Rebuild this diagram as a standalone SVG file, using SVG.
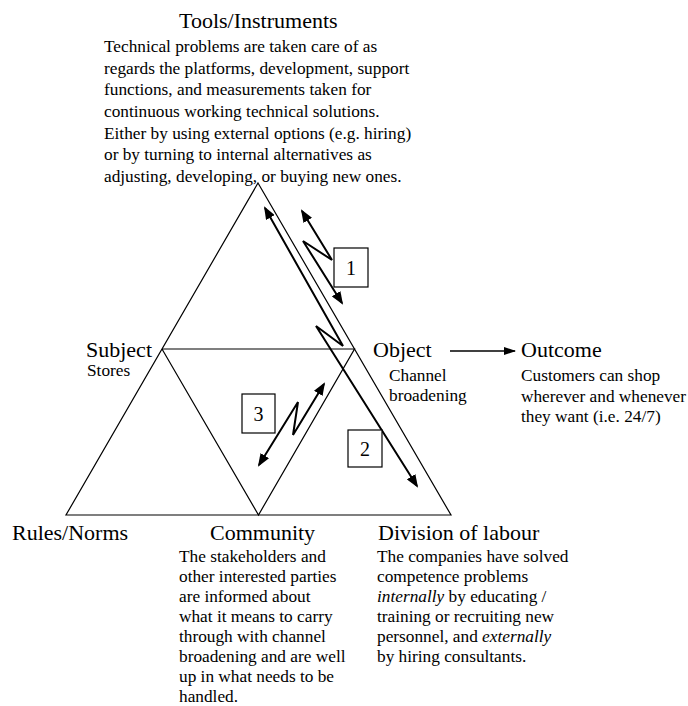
<svg xmlns="http://www.w3.org/2000/svg" width="688" height="706" viewBox="0 0 688 706">
<style>
text{font-family:"Liberation Serif","Times New Roman",serif;fill:#000}
.h{font-size:22px}
.b{font-size:17.3px}
.n{font-size:20px;text-anchor:middle}
.tri{fill:none;stroke:#000;stroke-width:1.2;stroke-linejoin:miter}
.zz{fill:none;stroke:#000;stroke-width:2;marker-start:url(#ah);marker-end:url(#ah)}
.box{fill:#fff;stroke:#000;stroke-width:1.2}
</style>
<defs>
<marker id="ah" markerUnits="userSpaceOnUse" markerWidth="14" markerHeight="10" refX="11" refY="5" orient="auto-start-reverse" viewBox="0 0 14 10">
<path d="M0,0 L13,5 L0,10 z" fill="#000"/>
</marker>
<marker id="ah2" markerUnits="userSpaceOnUse" markerWidth="12" markerHeight="8" refX="11" refY="4" orient="auto" viewBox="0 0 12 8">
<path d="M0,0 L12,4 L0,8 z" fill="#000"/>
</marker>
</defs>
<g id="connectors">
<polygon class="tri" points="258,183 451,515 66,515"/>
<polyline class="tri" points="162,349 354.5,349 258.5,515 162,349"/>
<polyline class="zz" points="265,208 343,346 316,326 417,486"/>
<polyline class="zz" points="302,211 332,260 303,241 342,303"/>
<polyline class="zz" points="324,384 293,435 298,402 259,465"/>
<line x1="450" y1="351" x2="515" y2="351" stroke="#000" stroke-width="1.3" marker-end="url(#ah2)"/>
</g>
<g id="tools">
<text class="h" x="179" y="28">Tools/Instruments</text>
<text class="b">
<tspan x="104" y="52">Technical problems are taken care of as</tspan>
<tspan x="104" y="73.7">regards the platforms, development, support</tspan>
<tspan x="104" y="95.3">functions, and measurements taken for</tspan>
<tspan x="104" y="117">continuous working technical solutions.</tspan>
<tspan x="104" y="138.7">Either by using external options (e.g. hiring)</tspan>
<tspan x="104" y="160.3">or by turning to internal alternatives as</tspan>
<tspan x="104" y="182">adjusting, developing, or buying new ones.</tspan>
</text>
</g>
<g id="subject">
<text class="h" x="86" y="356.5">Subject</text>
<text class="b" x="87" y="376">Stores</text>
</g>
<g id="object">
<text class="h" x="373" y="356.5">Object</text>
<text class="b"><tspan x="389" y="380.5">Channel</tspan><tspan x="389" y="401">broadening</tspan></text>
</g>
<g id="outcome">
<text class="h" x="521" y="356.5">Outcome</text>
<text class="b"><tspan x="521" y="380.5">Customers can shop</tspan><tspan x="521" y="401.5">wherever and whenever</tspan><tspan x="521" y="422">they want (i.e. 24/7)</tspan></text>
</g>
<g id="rules">
<text class="h" x="12" y="539.5">Rules/Norms</text>
</g>
<g id="community">
<text class="h" x="210" y="539.5">Community</text>
<text class="b">
<tspan x="179" y="562">The stakeholders and</tspan>
<tspan x="179" y="582">other interested parties</tspan>
<tspan x="179" y="602">are informed about</tspan>
<tspan x="179" y="622">what it means to carry</tspan>
<tspan x="179" y="642">through with channel</tspan>
<tspan x="179" y="662">broadening and are well</tspan>
<tspan x="179" y="682">up in what needs to be</tspan>
<tspan x="179" y="702">handled.</tspan>
</text>
</g>
<g id="division">
<text class="h" x="378" y="539.5">Division of labour</text>
<text class="b">
<tspan x="377" y="562">The companies have solved</tspan>
<tspan x="377" y="582">competence problems</tspan>
<tspan x="377" y="602"><tspan font-style="italic">internally</tspan> by educating /</tspan>
<tspan x="377" y="622">training or recruiting new</tspan>
<tspan x="377" y="642">personnel, and <tspan font-style="italic">externally</tspan></tspan>
<tspan x="377" y="662">by hiring consultants.</tspan>
</text>
</g>
<g id="box1">
<rect class="box" x="334" y="248" width="34" height="39"/>
<text class="n" x="351" y="275">1</text>
</g>
<g id="box2">
<rect class="box" x="348" y="430" width="34" height="37"/>
<text class="n" x="365" y="456">2</text>
</g>
<g id="box3">
<rect class="box" x="242" y="394" width="33" height="39"/>
<text class="n" x="258.5" y="421">3</text>
</g>
</svg>
